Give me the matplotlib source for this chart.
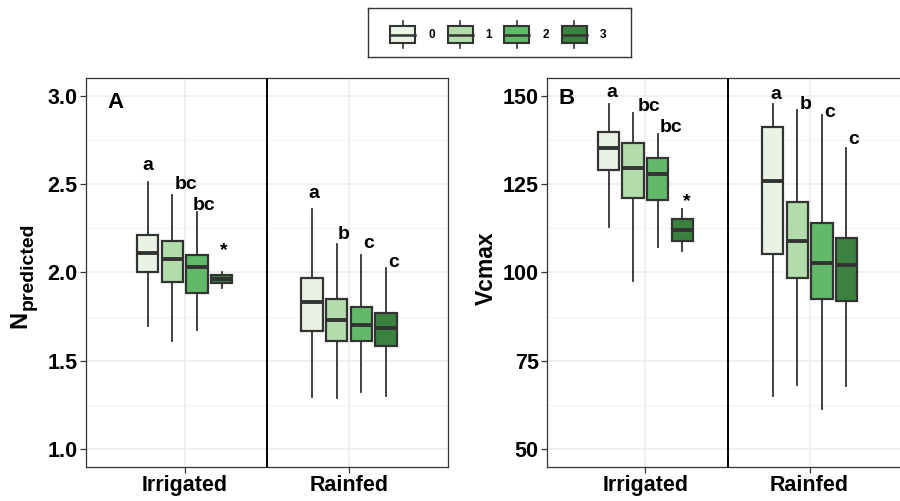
import matplotlib
matplotlib.use("Agg")
import matplotlib.pyplot as plt
from matplotlib.patches import Rectangle
from matplotlib.lines import Line2D
from matplotlib.ticker import MultipleLocator, FormatStrFormatter

plt.rcParams['font.family'] = ['Liberation Sans', 'DejaVu Sans']

# ---------------- data ----------------
sites = ["Irrigated", "Rainfed"]
levels = ["0", "1", "2", "3"]
colors = ["#EAF3E3", "#B3DCAB", "#63B96A", "#3A823D"]

# Panel A: N_predicted  (whislo, q1, med, q3, whishi) per level, per site
A_irr_whislo = [1.698, 1.609, 1.676, 1.914]
A_irr_q1 = [2.002, 1.946, 1.882, 1.937]
A_irr_med = [2.108, 2.073, 2.030, 1.961]
A_irr_q3 = [2.210, 2.178, 2.101, 1.983]
A_irr_whishi = [2.513, 2.438, 2.339, 2.002]

A_rain_whislo = [1.294, 1.287, 1.324, 1.302]
A_rain_q1 = [1.667, 1.611, 1.611, 1.583]
A_rain_med = [1.830, 1.732, 1.702, 1.684]
A_rain_q3 = [1.970, 1.847, 1.805, 1.770]
A_rain_whishi = [2.358, 2.163, 2.097, 2.022]

# Panel B: Vcmax
B_irr_whislo = [112.8, 97.5, 107.2, 106.1]
B_irr_q1 = [129.0, 120.9, 120.6, 109.0]
B_irr_med = [135.3, 129.4, 127.7, 112.1]
B_irr_q3 = [139.8, 136.7, 132.3, 115.1]
B_irr_whishi = [147.6, 145.1, 139.2, 117.8]

B_rain_whislo = [65.0, 68.1, 61.3, 67.7]
B_rain_q1 = [105.3, 98.5, 92.5, 91.9]
B_rain_med = [125.8, 108.9, 102.7, 102.0]
B_rain_q3 = [141.1, 119.8, 113.9, 109.6]
B_rain_whishi = [147.6, 146.0, 144.4, 135.2]

# significance letters
A_irr_letters = ["a", "bc", "bc", "*"]
A_rain_letters = ["a", "b", "c", "c"]
B_irr_letters = ["a", "bc", "bc", "*"]
B_rain_letters = ["a", "b", "c", "c"]
A_irr_letter_y = [2.607, 2.500, 2.376, 2.125]
A_rain_letter_y = [2.448, 2.213, 2.163, 2.058]
B_irr_letter_y = [150.8, 146.9, 141.1, 120.1]
B_rain_letter_y = [150.3, 147.5, 145.1, 137.5]
A_irr_letter_dx = [0.0, 0.083, 0.043, 0.012]
A_rain_letter_dx = [0.012, 0.043, 0.047, 0.050]
B_irr_letter_dx = [0.022, 0.097, 0.083, 0.027]
B_rain_letter_dx = [0.020, 0.049, 0.047, 0.045]

# ---------------- layout ----------------
W, H = 900, 501
fig = plt.figure(figsize=(9.0, 5.01), dpi=100)

def frac(l, t, r, b):
    return [l / W, 1 - b / H, (r - l) / W, (b - t) / H]

axA = fig.add_axes(frac(86, 78, 447.5, 466.7))
axB = fig.add_axes(frac(547, 78, 908, 466.7))

offsets = [-0.225, -0.075, 0.075, 0.225]
box_w = 0.13
edge = "#333333"


def stats_list(wl, q1, med, q3, wh):
    return [dict(whislo=a, q1=b, med=c, q3=d, whishi=e)
            for a, b, c, d, e in zip(wl, q1, med, q3, wh)]


def draw_panel(ax, groups, letters_sets, ylims, major, minor, panel_label, plx, ply):
    ax.set_xlim(0.4, 2.6)
    ax.set_ylim(*ylims)
    ax.yaxis.set_major_locator(MultipleLocator(major))
    ax.yaxis.set_minor_locator(MultipleLocator(minor))
    ax.set_xticks([1, 2])
    ax.set_xticklabels(sites)
    ax.grid(True, which='major', color='#EBEBEB', lw=1.1, zorder=0)
    ax.grid(True, which='minor', axis='y', color='#F2F2F2', lw=0.8, zorder=0)
    ax.set_axisbelow(True)
    for gi, st in enumerate(groups):
        center = gi + 1
        for li in range(4):
            ax.bxp([st[li]], positions=[center + offsets[li]], widths=box_w,
                   patch_artist=True, showfliers=False, showcaps=False,
                   boxprops=dict(facecolor=colors[li], edgecolor=edge, lw=1.6),
                   whiskerprops=dict(color=edge, lw=1.3),
                   medianprops=dict(color=edge, lw=2.8, solid_capstyle='butt'),
                   manage_ticks=False)
        letters, ly, dx = letters_sets[gi]
        for li in range(4):
            ax.text(center + offsets[li] + dx[li], ly[li], letters[li],
                    ha='center', va='center', fontsize=14, fontweight='bold')
    ax.axvline(1.5, color='black', lw=1.4, zorder=3)
    for s in ax.spines.values():
        s.set_color('#333333')
        s.set_linewidth(0.9)
    ax.tick_params(axis='both', which='major', length=4, width=0.9, color='#333333',
                   pad=2)
    ax.tick_params(axis='both', which='minor', length=0)
    for lab in ax.get_yticklabels():
        lab.set_fontsize(15.5)
        lab.set_fontweight('bold')
    for lab in ax.get_xticklabels():
        lab.set_fontsize(15.5)
        lab.set_fontweight('bold')
    ax.text(plx, ply, panel_label, ha='center', va='center', fontsize=16, fontweight='bold')


groupsA = [stats_list(A_irr_whislo, A_irr_q1, A_irr_med, A_irr_q3, A_irr_whishi),
           stats_list(A_rain_whislo, A_rain_q1, A_rain_med, A_rain_q3, A_rain_whishi)]
groupsB = [stats_list(B_irr_whislo, B_irr_q1, B_irr_med, B_irr_q3, B_irr_whishi),
           stats_list(B_rain_whislo, B_rain_q1, B_rain_med, B_rain_q3, B_rain_whishi)]

draw_panel(axA, groupsA,
           [(A_irr_letters, A_irr_letter_y, A_irr_letter_dx),
            (A_rain_letters, A_rain_letter_y, A_rain_letter_dx)],
           (0.9, 3.1), 0.5, 0.25, "A", 0.58, 2.96)
draw_panel(axB, groupsB,
           [(B_irr_letters, B_irr_letter_y, B_irr_letter_dx),
            (B_rain_letters, B_rain_letter_y, B_rain_letter_dx)],
           (45, 155), 25, 12.5, "B", 0.52, 149.1)

axA.yaxis.set_major_formatter(FormatStrFormatter('%.1f'))

# y-axis titles: N with subscript "predicted"
fig.text(26 / W, 1 - 328 / H, 'N', rotation=90, rotation_mode='anchor',
         ha='left', va='baseline', fontsize=17, fontweight='bold')
fig.text(33 / W, 1 - 310 / H, 'predicted', rotation=90, rotation_mode='anchor',
         ha='left', va='baseline', fontsize=14, fontweight='bold')
fig.text(486 / W, 1 - 268 / H, 'Vcmax', rotation=90, ha='center', va='center',
         fontsize=16.5, fontweight='bold')

# ---------------- legend ----------------
lg = fig.add_axes(frac(368, 8.3, 631, 57.3))
lg.set_xlim(368, 631)
lg.set_ylim(57.3, 8.3)
lg.set_xticks([])
lg.set_yticks([])
for s in lg.spines.values():
    s.set_color('#333333')
    s.set_linewidth(1.0)
key_x = [402.7, 460, 516.7, 574]
for li in range(4):
    cx = key_x[li]
    lg.add_line(Line2D([cx, cx], [20.7, 48.3], color=edge, lw=1.2))
    lg.add_patch(Rectangle((cx - 12.5, 26), 25, 17.3, facecolor=colors[li],
                           edgecolor=edge, lw=1.5, zorder=3))
    lg.add_line(Line2D([cx - 12.5, cx + 12.5], [34.7, 34.7], color=edge, lw=1.8, zorder=4))
    lg.text(cx + 29, 34.7, levels[li], ha='center', va='center', fontsize=8.5,
            fontweight='bold')

fig.savefig("out.png", dpi=100)
